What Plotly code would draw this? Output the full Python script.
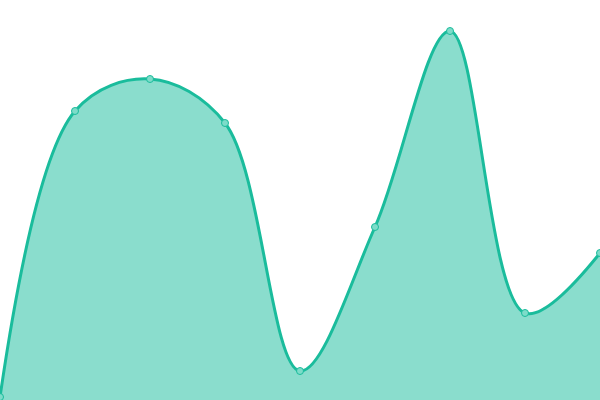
import plotly.graph_objects as go

# Sample data
x_vals = [0, 1, 2, 3, 4, 5, 6, 7, 8]
y_vals = [3, 289, 321, 277, 29, 173, 369, 87, 147]

line_color = '#1abc9c'
fill_color = 'rgba(26, 188, 156, 0.51)'

fig = go.Figure()

fig.add_trace(go.Scatter(
    x=x_vals,
    y=y_vals,
    mode='lines+markers',
    line=dict(shape='spline', smoothing=1, color=line_color, width=3),
    fill='tozeroy',
    fillcolor=fill_color,
    marker=dict(size=7, color='#7ddcc9', line=dict(color=line_color, width=1)),
    hoverinfo='y'
))

fig.update_layout(
    xaxis=dict(visible=False, range=[0, 8]),
    yaxis=dict(visible=False, range=[0, 400]),
    showlegend=False,
    width=600,
    height=400,
    margin=dict(l=0, r=0, t=0, b=0),
    paper_bgcolor='white',
    plot_bgcolor='white'
)

# drop the default page margin so the chart sits flush in the window
fig.write_html("out.html", config={'displayModeBar': False},
               post_script="document.body.style.margin='0';document.body.style.overflow='hidden';")
